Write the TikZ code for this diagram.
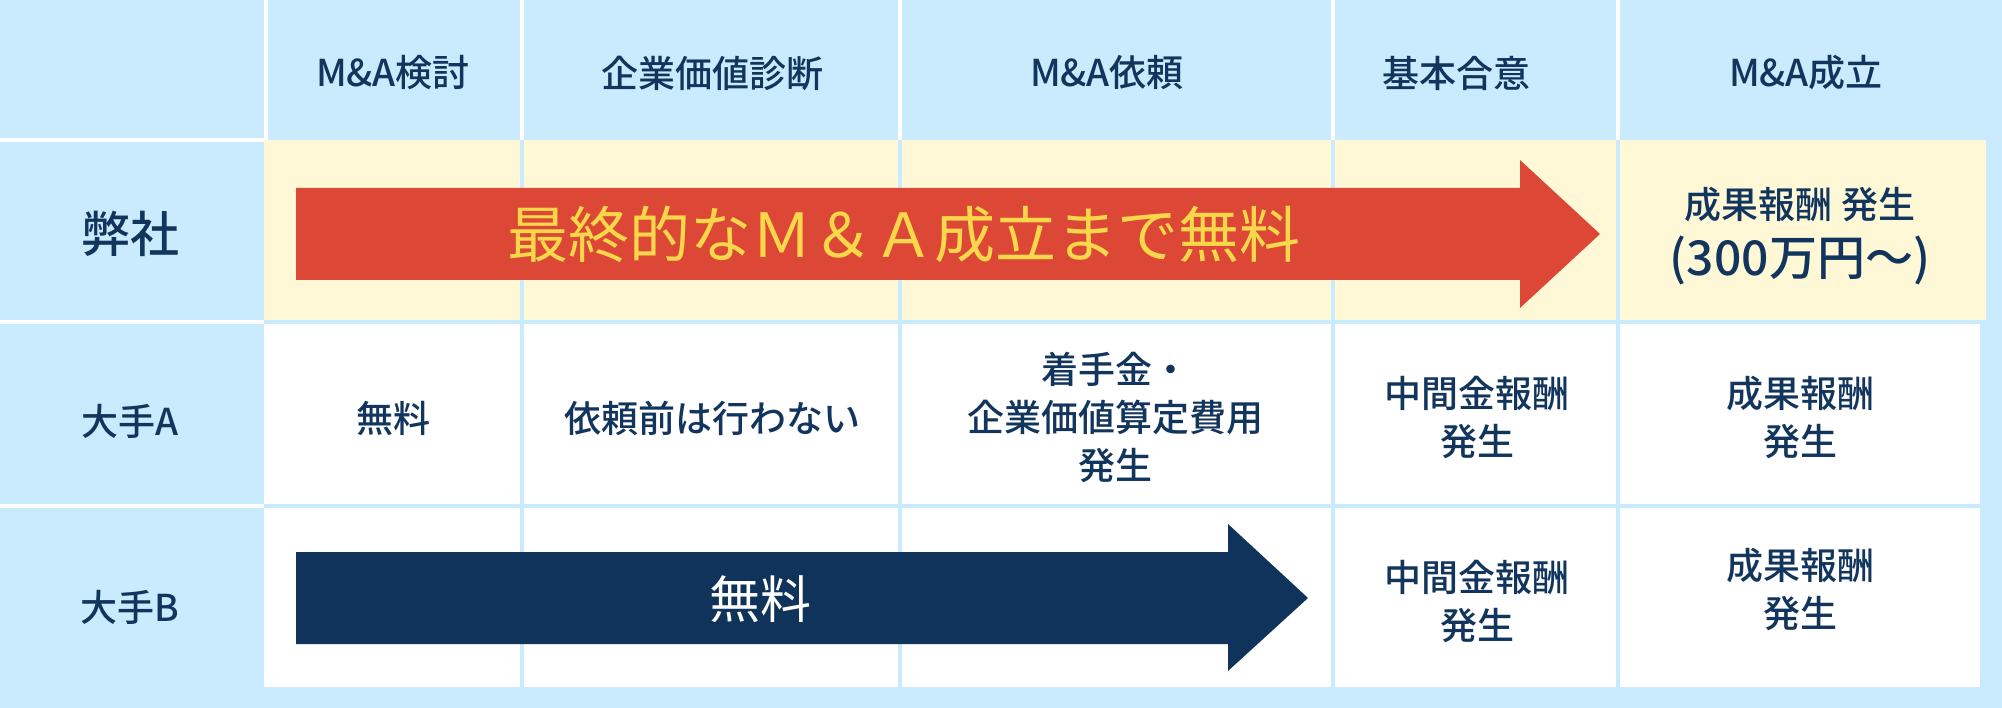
\documentclass[tikz,border=0pt]{standalone}
\usepackage{fontspec}
\setmainfont{Noto Sans CJK JP}[UprightFont={* Medium}]
\newfontfamily\plainjp{Noto Sans CJK JP}
\usepackage{xcolor}
\definecolor{skyblue}{HTML}{C9EBFD}
\definecolor{cream}{HTML}{FFF8D6}
\definecolor{inkblue}{HTML}{12355E}
\definecolor{redarrow}{HTML}{DD4836}
\definecolor{navyarrow}{HTML}{10335C}
\definecolor{gold}{HTML}{F8D84A}
\newcommand{\txtsize}{\fontsize{37}{48}\selectfont}

\begin{document}
\begin{tikzpicture}[x=1pt, y=-1pt,
    gapline/.style={fill=white},
    tophalf/.style={fill=cream},
    lowcell/.style={fill=white},
    label/.style={text=inkblue, font=\txtsize, align=center, inner sep=0pt}]
  % background and grid
  \useasboundingbox (0, 0) rectangle (2002, 708);
  \fill[skyblue] (0, 0) rectangle (2002, 708);
  \fill[gapline] (264, 0) rectangle (268, 140);
  \fill[gapline] (520, 0) rectangle (524, 140);
  \fill[gapline] (898, 0) rectangle (902, 140);
  \fill[gapline] (1331, 0) rectangle (1335, 140);
  \fill[gapline] (1616, 0) rectangle (1620, 140);
  \fill[gapline] (0, 138) rectangle (264, 142);
  \fill[gapline] (0, 320) rectangle (264, 324);
  \fill[gapline] (0, 504) rectangle (264, 508);
  \fill[tophalf] (264, 140) rectangle (520, 320);
  \fill[tophalf] (524, 140) rectangle (898, 320);
  \fill[tophalf] (902, 140) rectangle (1331, 320);
  \fill[tophalf] (1335, 140) rectangle (1616, 320);
  \fill[tophalf] (1620, 140) rectangle (1986, 320);
  \fill[lowcell] (264, 324) rectangle (520, 504);
  \fill[lowcell] (524, 324) rectangle (898, 504);
  \fill[lowcell] (902, 324) rectangle (1331, 504);
  \fill[lowcell] (1335, 324) rectangle (1616, 504);
  \fill[lowcell] (1620, 324) rectangle (1980, 504);
  \fill[lowcell] (264, 508) rectangle (520, 687);
  \fill[lowcell] (524, 508) rectangle (898, 687);
  \fill[lowcell] (902, 508) rectangle (1331, 687);
  \fill[lowcell] (1335, 508) rectangle (1616, 687);
  \fill[lowcell] (1620, 508) rectangle (1980, 687);
  % arrows
  \fill[redarrow] (296, 188) -- (1520, 188) -- (1520, 160) -- (1600, 234)
    -- (1520, 308) -- (1520, 280) -- (296, 280) -- cycle;
  \fill[navyarrow] (296, 552) -- (1228, 552) -- (1228, 524) -- (1308, 598)
    -- (1228, 671) -- (1228, 644) -- (296, 644) -- cycle;
  % header
  \node[label] (consider) at (393, 73) {M\&A検討};
  \node[label] (valuation) at (712, 73) {企業価値診断};
  \node[label] (request) at (1107, 73) {M\&A依頼};
  \node[label] (agreement) at (1456, 73) {基本合意};
  \node[label] (closing) at (1806, 73) {M\&A成立};
  % rows
  \node[label, font=\fontsize{49}{60}\selectfont] (ours) at (130, 234) {弊社};
  \node[label] (firmA) at (130, 421) {大手A};
  \node[label] (firmB) at (130, 607) {大手B};
  \node[label, text=gold, font=\plainjp\fontsize{61}{70}\selectfont] (freeall) at (904, 234) {最終的なＭ＆Ａ成立まで無料};
  \node[label] (fee) at (1800, 205) {成果報酬 発生};
  \node[label, font=\fontsize{48}{56}\selectfont] (feeamount) at (1800, 260) {(300万円〜)};
  \node[label] (freeA) at (393, 418) {無料};
  \node[label] (noneA) at (712, 418) {依頼前は行わない};
  \node[label] (retainerA) at (1115, 417) {着手金・\\企業価値算定費用\\発生};
  \node[label] (interimA) at (1477, 417) {中間金報酬\\発生};
  \node[label] (successA) at (1800, 417) {成果報酬\\発生};
  \node[label, text=white, font=\plainjp\fontsize{51}{60}\selectfont] (freeB) at (760, 599) {無料};
  \node[label] (interimB) at (1477, 601) {中間金報酬\\発生};
  \node[label] (successB) at (1800, 589) {成果報酬\\発生};
\end{tikzpicture}
\end{document}
